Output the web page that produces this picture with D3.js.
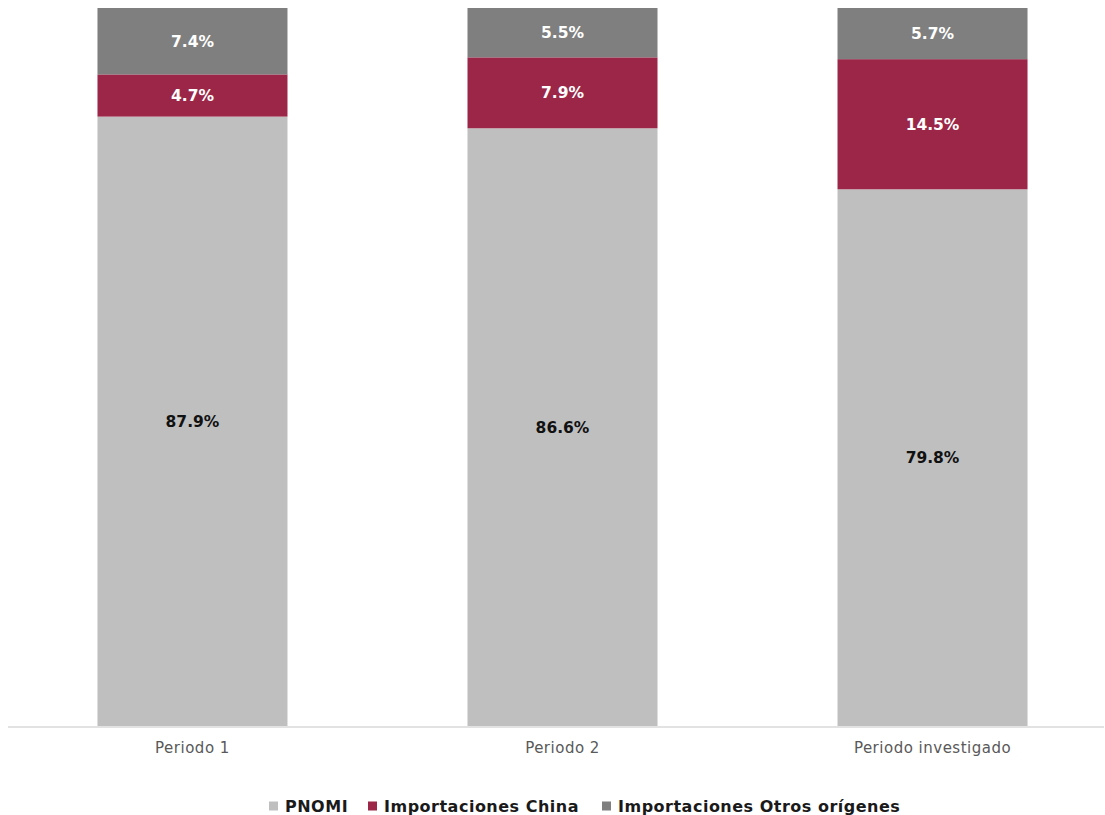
<!DOCTYPE html>
<html>
<head>
<meta charset="utf-8">
<script src="https://cdn.jsdelivr.net/npm/d3@7"></script>
<style>
  html, body { margin: 0; padding: 0; background: #ffffff; }
  svg { display: block; }
  text { font-family: "DejaVu Sans", sans-serif; }
</style>
</head>
<body>
<svg id="chart" width="1105" height="815"></svg>
<script>
// Market share by period (percent)
const periods = ["Periodo 1", "Periodo 2", "Periodo investigado"];
const pnomi = [87.9, 86.6, 79.8];
const china = [4.7, 7.9, 14.5];
const otros = [7.4, 5.5, 5.7];
const seriesNames = ["PNOMI", "Importaciones China", "Importaciones Otros orígenes"];
const seriesColors = ["#bfbfbf", "#9b2647", "#7f7f7f"];
const labelColors = ["#111111", "#ffffff", "#ffffff"];
const yDomain = [20, 100];

const svg = d3.select("#chart");

const rows = periods.map((p, i) => ({
  period: p,
  PNOMI: pnomi[i],
  "Importaciones China": china[i],
  "Importaciones Otros orígenes": otros[i]
}));

const stacked = d3.stack().keys(seriesNames)(rows);

const x = d3.scaleBand()
  .domain(periods)
  .range([18, 1107])
  .paddingInner(0.4865)
  .paddingOuter(0.2148);

const y = d3.scaleLinear().domain(yDomain).range([726, 8]);

const color = d3.scaleOrdinal().domain(seriesNames).range(seriesColors);
const labelColor = d3.scaleOrdinal().domain(seriesNames).range(labelColors);

const segTop = d => y(Math.min(d[1], yDomain[1]));
const segBottom = d => y(Math.max(d[0], yDomain[0]));

// stacked segments
const layers = svg.append("g")
  .selectAll("g")
  .data(stacked)
  .join("g")
  .attr("fill", d => color(d.key));

layers.selectAll("rect")
  .data(d => d.map(s => Object.assign(s, { key: d.key })))
  .join("rect")
  .attr("x", d => x(d.data.period))
  .attr("width", x.bandwidth())
  .attr("y", segTop)
  .attr("height", d => segBottom(d) - segTop(d));

// value labels centred in each segment
const fmt = v => v.toFixed(1) + "%";
svg.append("g")
  .selectAll("g")
  .data(stacked)
  .join("g")
  .selectAll("text")
  .data(d => d)
  .join("text")
  .attr("x", d => x(d.data.period) + x.bandwidth() / 2)
  .attr("y", d => (segBottom(d) + segTop(d)) / 2)
  .attr("dy", "0.36em")
  .attr("text-anchor", "middle")
  .attr("font-size", 15.5)
  .attr("font-weight", "bold")
  .attr("fill", d => labelColor(d.key))
  .text(d => fmt(d[1] - d[0]));

// baseline
svg.append("line")
  .attr("x1", 8).attr("x2", 1104)
  .attr("y1", y(yDomain[0]) + 1).attr("y2", y(yDomain[0]) + 1)
  .attr("stroke", "#d9d9d9")
  .attr("stroke-width", 1.5);

// category axis
const xAxis = svg.append("g")
  .attr("transform", `translate(0,${y(yDomain[0])})`)
  .call(d3.axisBottom(x).tickSize(0).tickPadding(16));
xAxis.select(".domain").remove();
xAxis.selectAll("text")
  .attr("font-family", "DejaVu Sans, sans-serif")
  .attr("font-size", 15)
  .attr("letter-spacing", "0.5px")
  .attr("fill", "#595959");

// legend
const legendX = [269, 368, 602];
const legend = svg.append("g")
  .selectAll("g")
  .data(seriesNames)
  .join("g")
  .attr("transform", (d, i) => `translate(${legendX[i]},806)`);
legend.append("rect")
  .attr("x", 0).attr("y", -4.5)
  .attr("width", 9).attr("height", 9)
  .attr("fill", d => color(d));
legend.append("text")
  .attr("x", 16)
  .attr("dy", "0.36em")
  .attr("font-size", 16)
  .attr("font-weight", "bold")
  .attr("letter-spacing", "0.5px")
  .attr("fill", "#1a1a1a")
  .text(d => d);
</script>
</body>
</html>
